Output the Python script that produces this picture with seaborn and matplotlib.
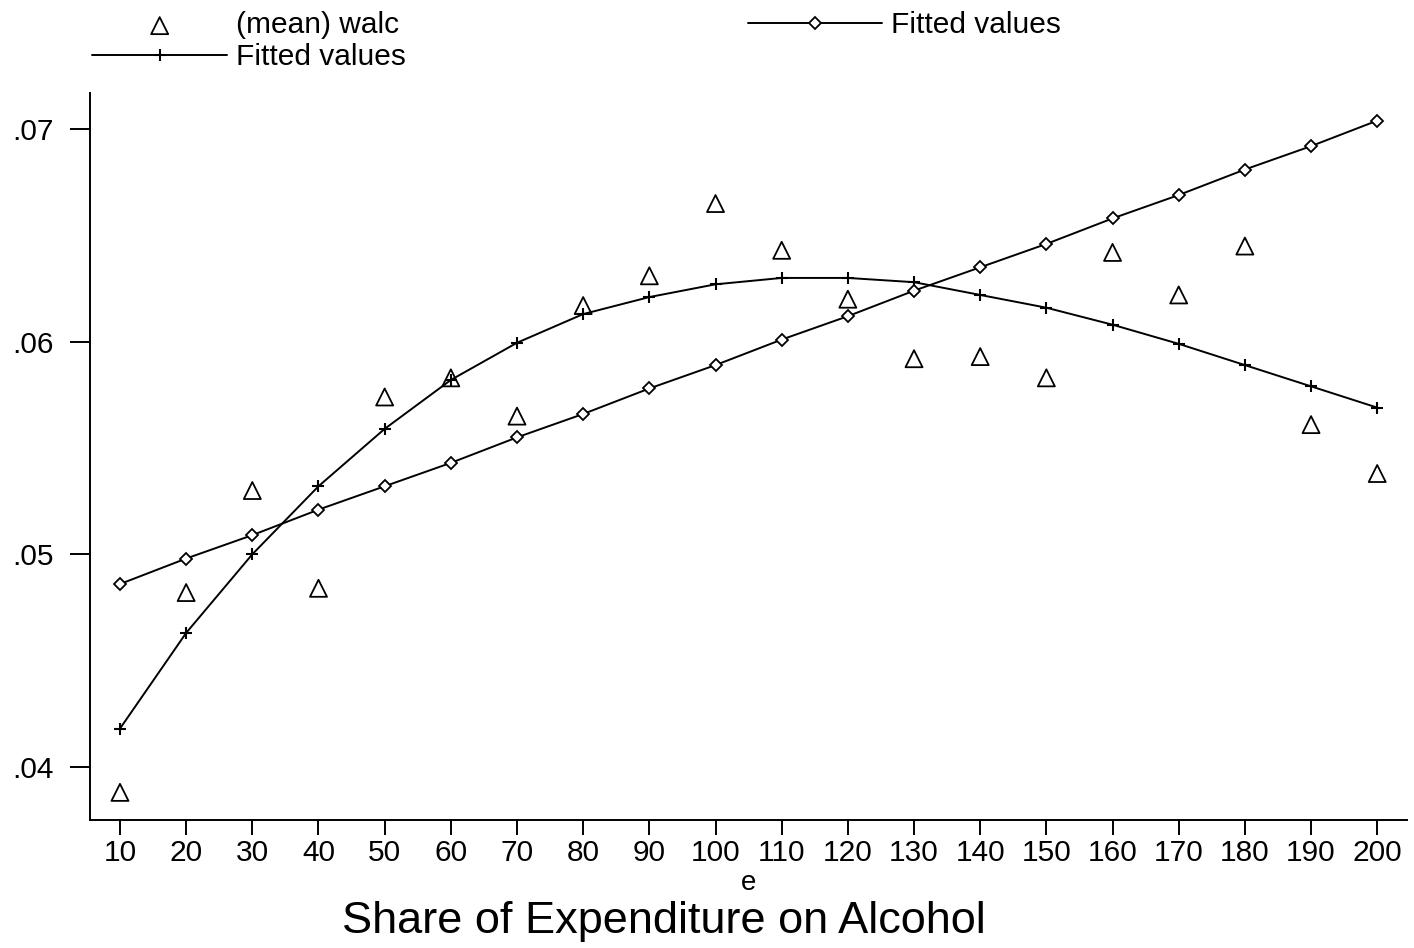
import matplotlib
matplotlib.use("Agg")
import matplotlib.pyplot as plt
import seaborn as sns
import pandas as pd

sns.set_theme(style="white")
plt.rcParams['font.family'] = ['Liberation Sans', 'DejaVu Sans']
plt.rcParams['text.color'] = 'black'
plt.rcParams['axes.labelcolor'] = 'black'
plt.rcParams['xtick.color'] = 'black'
plt.rcParams['ytick.color'] = 'black'

e_vals = [10, 20, 30, 40, 50, 60, 70, 80, 90, 100, 110, 120, 130, 140, 150, 160, 170, 180, 190, 200]
mean_walc = [0.0388, 0.0482, 0.0530, 0.0484, 0.0574, 0.0583, 0.0565, 0.0617, 0.0631, 0.0665,
             0.0643, 0.0620, 0.0592, 0.0593, 0.0583, 0.0642, 0.0622, 0.0645, 0.0561, 0.0538]
fit_quad = [0.0418, 0.0463, 0.0500, 0.0532, 0.0559, 0.0582, 0.05995, 0.0613, 0.0621, 0.0627,
            0.0630, 0.0630, 0.0628, 0.0622, 0.0616, 0.0608, 0.0599, 0.0589, 0.0579, 0.0569]
fit_lin = [0.0486, 0.0498, 0.0509, 0.0521, 0.0532, 0.0543, 0.0555, 0.0566, 0.0578, 0.0589,
           0.0601, 0.0612, 0.0624, 0.0635, 0.0646, 0.0658, 0.0669, 0.0681, 0.0692, 0.0704]
y_ticks = [0.04, 0.05, 0.06, 0.07]
y_tick_labels = [".04", ".05", ".06", ".07"]

df = pd.DataFrame({"e": e_vals, "walc": mean_walc, "quad": fit_quad, "lin": fit_lin})

fig = plt.figure(figsize=(14.14, 9.48), dpi=100)
ax = fig.add_axes([90/1414, 1-820/948, (1407-90)/1414, (820-93)/948])

lw = 1.4
sns.scatterplot(data=df, x="e", y="walc", ax=ax, marker="^", s=150, facecolor="none",
                edgecolor="black", linewidth=1.3, label="(mean) walc", zorder=3)
sns.lineplot(data=df, x="e", y="quad", ax=ax, color="black", linewidth=lw, marker="+",
             markersize=9, markeredgewidth=1.5, markeredgecolor="black",
             label="Fitted values")
sns.lineplot(data=df, x="e", y="lin", ax=ax, color="black", linewidth=lw, marker="D",
             markersize=6, markerfacecolor="white", markeredgecolor="black",
             markeredgewidth=1.3, label="Fitted values")

ax.set_xlim(5.47, 204.5)
ax.set_ylim(0.0375, 0.0717)
ax.set_xticks(e_vals)
ax.set_xticklabels([str(v) for v in e_vals], fontsize=21.5)
ax.set_yticks(y_ticks)
ax.set_yticklabels(y_tick_labels, fontsize=21.5)
ax.tick_params(axis="y", length=14.4, width=1.4, pad=12, left=True)
ax.tick_params(axis="x", length=11, width=1.4, pad=3, bottom=True)
for s in ["top", "right"]:
    ax.spines[s].set_visible(False)
for s in ["left", "bottom"]:
    ax.spines[s].set_linewidth(1.4)
    ax.spines[s].set_color("black")
ax.set_xlabel("e", fontsize=20, labelpad=1.5)
ax.set_ylabel("")

handles, labels = ax.get_legend_handles_labels()
ax.legend(handles, labels, ncol=2,
          loc="upper left", bbox_to_anchor=(88/1414, 1.0 - 7/948), bbox_transform=fig.transFigure,
          frameon=False, fontsize=21.5, handlelength=4.5, handletextpad=0.3,
          columnspacing=11.45, labelspacing=0.13, borderpad=0.15, borderaxespad=0.0)

fig.text(664/1414, 1-922/948, "Share of Expenditure on Alcohol", fontsize=32.5,
         ha="center", va="center")

fig.savefig("out.png", dpi=100)
